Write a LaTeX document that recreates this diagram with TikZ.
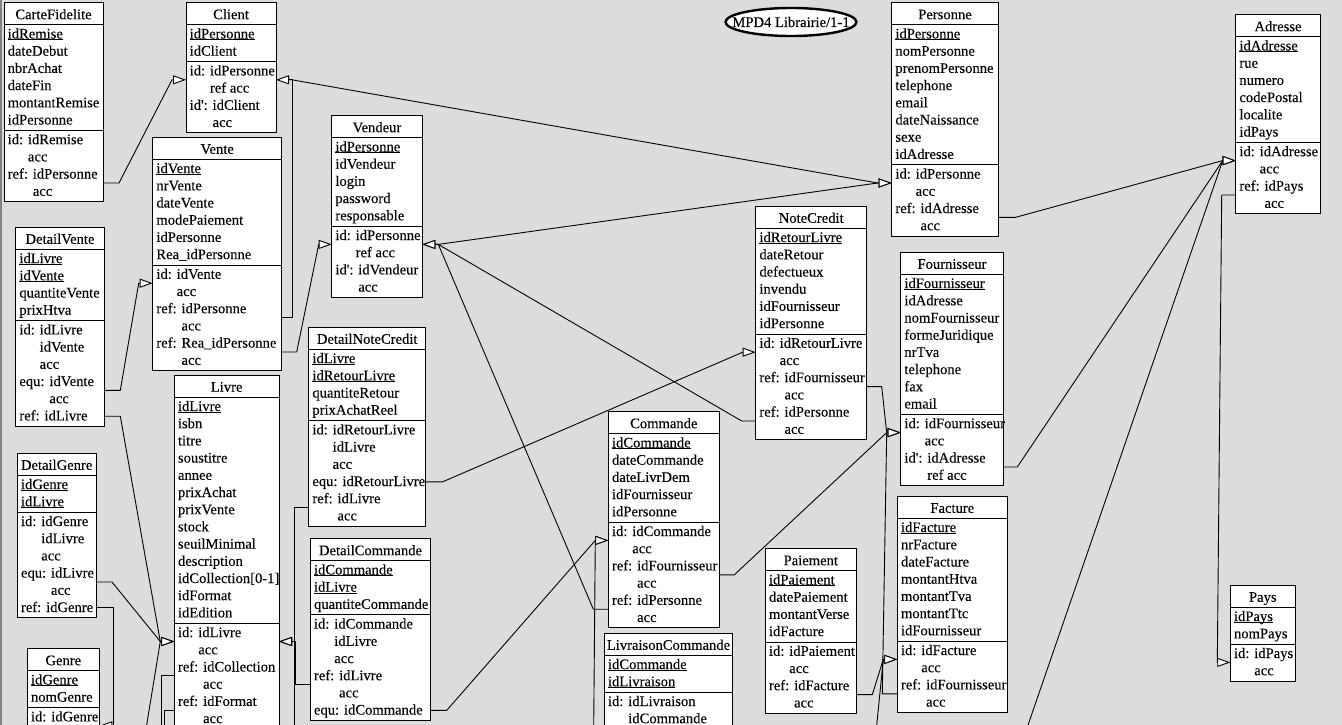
\documentclass[tikz,border=0pt]{standalone}
\usepackage{fontspec}
\setmainfont{Liberation Serif}[FakeBold=0.12]
\usetikzlibrary{arrows.meta,shapes.geometric}

\definecolor{canvas}{RGB}{220,220,220}
\definecolor{frameedge}{RGB}{130,130,130}

% primary-key attribute: underlined just below the baseline
\newsavebox\keybox
\newcommand\keyattr[1]{\sbox\keybox{#1}\rlap{\rule[-1.8pt]{\wd\keybox}{0.9pt}}\usebox\keybox}
% continuation line of a constraint group, indented past its prefix
\newcommand\cont[1]{\hphantom{#1: }}
% straight prime of the secondary identifier
\newcommand\sid{id\textquotesingle}

\tikzset{
  entbox/.style={draw, fill=white, line width=1pt, inner sep=0pt, outer sep=0pt, anchor=north west},
  ttl/.style={anchor=base, inner sep=0pt},
  entrow/.style={anchor=base west, inner sep=0pt},
  sepline/.style={line width=1pt},
  lnk/.style={line width=0.9pt},
  fk/.style={lnk, -{Triangle[open, fill=white, length=13pt, width=9pt]}},
}

% \entity{name}{left}{top}{width}{title}{attributes}{constraints}
% rows are 17.2 units apart; anchors name-Li / name-Ri sit on the box sides
% at row i, name-Lmi / name-Rmi halfway between rows i and i+1
\newcommand\entity[7]{%
  \pgfmathsetmacro\eL{#2}%
  \pgfmathsetmacro\eT{#3}%
  \pgfmathsetmacro\eR{#2+#4}%
  \pgfmathsetmacro\eS{#3+22}%
  \foreach \a [count=\i] in {#6} {\xdef\entNA{\i}}%
  \foreach \c [count=\i] in {#7} {\xdef\entNC{\i}}%
  \pgfmathsetmacro\eA{\eS+17.2*\entNA+2.5}%
  \pgfmathsetmacro\eB{\eA+17.2*\entNC+2.5}%
  \node[entbox, minimum width={#4}, minimum height={\eB-\eT}] (#1) at (\eL,\eT) {};
  \node[ttl] (#1-t) at ({(\eL+\eR)/2}, \eT+16.5) {#5};
  \draw[sepline] (\eL,\eS) -- (\eR,\eS);
  \draw[sepline] (\eL,\eA) -- (\eR,\eA);
  \foreach \a [count=\i] in {#6} {%
    \node[entrow] (#1-a\i) at (\eL+3.5, \eS+13.8+17.2*\i-17.2) {\a};}
  \foreach \c [count=\i] in {#7} {%
    \pgfmathsetmacro\yc{\eA+9.6+17.2*(\i-1)}
    \node[entrow] (#1-c\i) at (\eL+3.5, \yc+4.2) {\c};
    \coordinate (#1-L\i) at (\eL,\yc);
    \coordinate (#1-R\i) at (\eR,\yc);
    \coordinate (#1-Lm\i) at (\eL,\yc+8.6);
    \coordinate (#1-Rm\i) at (\eR,\yc+8.6);
  }%
}

\begin{document}
\begin{tikzpicture}[x=1pt, y=-1pt, font=\fontsize{14.6}{17.2}\selectfont]
\useasboundingbox (0,0) rectangle (1342,725);
\fill[canvas] (0,0) rectangle (1342,725);
\fill[frameedge] (0,0) rectangle (2,725);
\clip (0,0) rectangle (1342,725);

% ---------- tables ----------
\entity{cf}{4}{2.7}{99}{CarteFidelite}
  {\keyattr{idRemise}, dateDebut, nbrAchat, dateFin, montantRemise, idPersonne}
  {id: idRemise, \cont{id}acc, ref: idPersonne, \cont{ref}acc}

\entity{client}{186}{2.7}{90}{Client}
  {\keyattr{idPersonne}, idClient}
  {id: idPersonne, \cont{id}ref acc, \sid: idClient, \cont{\sid}acc}

\entity{vente}{152.7}{137.3}{129}{Vente}
  {\keyattr{idVente}, nrVente, dateVente, modePaiement, idPersonne, Rea\_idPersonne}
  {id: idVente, \cont{id}acc, ref: idPersonne, \cont{ref}acc, ref: Rea\_idPersonne, \cont{ref}acc}

\entity{vendeur}{331.7}{115.7}{90.6}{Vendeur}
  {\keyattr{idPersonne}, idVendeur, login, password, responsable}
  {id: idPersonne, \cont{id}ref acc, \sid: idVendeur, \cont{\sid}acc}

\entity{dv}{15.7}{227.3}{88.6}{DetailVente}
  {\keyattr{idLivre}, \keyattr{idVente}, quantiteVente, prixHtva}
  {id: idLivre, \cont{id}idVente, \cont{id}acc, equ: idVente, \cont{equ}acc, ref: idLivre}

\entity{dg}{17.3}{453.3}{78.7}{DetailGenre}
  {\keyattr{idGenre}, \keyattr{idLivre}}
  {id: idGenre, \cont{id}idLivre, \cont{id}acc, equ: idLivre, \cont{equ}acc, ref: idGenre}

\entity{genre}{27.3}{648.7}{72}{Genre}
  {\keyattr{idGenre}, nomGenre}
  {id: idGenre, \relax}

\entity{livre}{174.3}{375.2}{104.7}{Livre}
  {\keyattr{idLivre}, isbn, titre, soustitre, annee, prixAchat, prixVente, stock,
   seuilMinimal, description, idCollection[0-1], idFormat, idEdition}
  {id: idLivre, \cont{id}acc, ref: idCollection, \cont{ref}acc, ref: idFormat, \cont{ref}acc, \relax, \relax}

\entity{dnc}{308.7}{327.3}{117}{DetailNoteCredit}
  {\keyattr{idLivre}, \keyattr{idRetourLivre}, quantiteRetour, prixAchatReel}
  {id: idRetourLivre, \cont{id}idLivre, \cont{id}acc, equ: idRetourLivre, ref: idLivre, \cont{ref}acc}

\entity{dc}{310.3}{538.7}{120.4}{DetailCommande}
  {\keyattr{idCommande}, \keyattr{idLivre}, quantiteCommande}
  {id: idCommande, \cont{id}idLivre, \cont{id}acc, ref: idLivre, \cont{ref}acc, equ: idCommande}

\entity{commande}{608.3}{411.7}{111}{Commande}
  {\keyattr{idCommande}, dateCommande, dateLivrDem, idFournisseur, idPersonne}
  {id: idCommande, \cont{id}acc, ref: idFournisseur, \cont{ref}acc, ref: idPersonne, \cont{ref}acc}

\entity{lc}{604.3}{633.3}{128.4}{LivraisonCommande}
  {\keyattr{idCommande}, \keyattr{idLivraison}}
  {id: idLivraison, \cont{id}idCommande, \relax, \relax}

\entity{paiement}{765.3}{548.7}{91}{Paiement}
  {\keyattr{idPaiement}, datePaiement, montantVerse, idFacture}
  {id: idPaiement, \cont{id}acc, ref: idFacture, \cont{ref}acc}

\entity{notecredit}{755.7}{206.3}{111}{NoteCredit}
  {\keyattr{idRetourLivre}, dateRetour, defectueux, invendu, idFournisseur, idPersonne}
  {id: idRetourLivre, \cont{id}acc, ref: idFournisseur, \cont{ref}acc, ref: idPersonne, \cont{ref}acc}

\entity{fournisseur}{900.7}{252.3}{102.6}{Fournisseur}
  {\keyattr{idFournisseur}, idAdresse, nomFournisseur, formeJuridique, nrTva, telephone, fax, email}
  {id: idFournisseur, \cont{id}acc, \sid: idAdresse, \cont{\sid}ref acc}

\entity{facture}{897.3}{496.3}{110}{Facture}
  {\keyattr{idFacture}, nrFacture, dateFacture, montantHtva, montantTva, montantTtc, idFournisseur}
  {id: idFacture, \cont{id}acc, ref: idFournisseur, \cont{ref}acc}

\entity{personne}{891.7}{2.7}{106.6}{Personne}
  {\keyattr{idPersonne}, nomPersonne, prenomPersonne, telephone, email, dateNaissance, sexe, idAdresse}
  {id: idPersonne, \cont{id}acc, ref: idAdresse, \cont{ref}acc}

\entity{adresse}{1235.7}{14.7}{84.6}{Adresse}
  {\keyattr{idAdresse}, rue, numero, codePostal, localite, idPays}
  {id: idAdresse, \cont{id}acc, ref: idPays, \cont{ref}acc}

\entity{pays}{1230.3}{585.3}{65}{Pays}
  {\keyattr{idPays}, nomPays}
  {id: idPays, \cont{id}acc}

% schema label: a fixed-size ellipse with its title laid on top
\node[draw, ellipse, fill=white, line width=2.4pt, minimum width=131, minimum height=28, inner sep=0pt]
  (schema) at (791,22) {};
\node[inner sep=0pt] (schematitle) at (schema.center) {MPD4 Librairie/1-1};

% free ends of links whose other table lies below the sheet
\coordinate (adrlink) at (1019.4,750);
\coordinate (factlink) at (874.2,750);
\coordinate (livlinkR) at (294.6,750);
\coordinate (livlinkL) at (142.6,750);
\coordinate (cmdlink) at (593.5,750);
\coordinate (collink) at (161.3,750);
\coordinate (fmtlink) at (164,750);

% ---------- links leaving an identifier group (drawn under the arrow tips) ----------
\draw[fk] (client-Rm1) -- ++(16,0) -- ([xshift=-14pt]personne-Lm1) -- (personne-Lm1);
\draw[fk] (vendeur-Rm1) -- ++(16,0) -- ([xshift=-14pt]personne-Lm1) -- (personne-Lm1);
\draw[lnk] (livre-Lm3) -| (collink);
\draw[lnk] (livre-Lm5) -| (fmtlink);

% ---------- foreign keys ----------
\draw[fk] (cf-Rm3) -- ++(16,0) -- ([xshift=-14pt]client-Lm1) -- (client-Lm1);
\draw[fk] (vente-Rm3) -- ++(11,0) |- (client-Rm1);
\draw[fk] (vente-Rm5) -- ++(15,0) -- ([xshift=-13pt]vendeur-Lm1) -- (vendeur-Lm1);
\draw[fk] (notecredit-Lm5) -- ++(-14,0) -- ([xshift=16pt]vendeur-Rm1) -- (vendeur-Rm1);
\draw[fk] (commande-Lm5) -- ++(-15,0) -- ([xshift=16pt]vendeur-Rm1) -- (vendeur-Rm1);

\draw[fk] (personne-Rm3) -- ++(17,0) -- ([xshift=-13pt]adresse-Lm1) -- (adresse-Lm1);
\draw[fk] (fournisseur-Rm3) -- ++(14,0) -- ([xshift=-13pt]adresse-Lm1) -- (adresse-Lm1);
\draw[fk] (adrlink) -- ([xshift=-13pt]adresse-Lm1) -- (adresse-Lm1);
\draw[fk] (adresse-Lm3) -- ++(-14,0) -- ([xshift=-13pt]pays-Lm1) -- (pays-Lm1);

\draw[fk] (notecredit-Rm3) -- ++(15,0) -- ([xshift=-14pt]fournisseur-Lm1) -- (fournisseur-Lm1);
\draw[fk] (commande-Rm3) -- ++(15,0) -- ([xshift=-14pt]fournisseur-Lm1) -- (fournisseur-Lm1);
\draw[fk] (facture-Lm3) -- ++(-15,0) -- ([xshift=-14pt]fournisseur-Lm1) -- (fournisseur-Lm1);

\draw[fk] (paiement-Rm3) -- ++(16,0) -- ([xshift=-14pt]facture-Lm1) -- (facture-Lm1);
\draw[fk] (factlink) -- ([xshift=-14pt]facture-Lm1) -- (facture-Lm1);

\draw[fk] (dnc-R4) -- ++(17,0) -- ([xshift=-13pt]notecredit-Lm1) -- (notecredit-Lm1);
\draw[fk] (dnc-Lm5) -- ++(-14,0) |- (livre-Rm1);
\draw[fk] (dc-Lm4) -- ++(-15,0) |- (livre-Rm1);
\draw[fk] (livlinkR) |- (livre-Rm1);

\draw[fk] (dc-R6) -- ++(16,0) -- ([xshift=-13pt]commande-Lm1) -- (commande-Lm1);
\draw[fk] (cmdlink) -- ([xshift=-13pt]commande-Lm1) -- (commande-Lm1);

\draw[fk] (dv-Rm4) -- ++(16,0) -- ([xshift=-14pt]vente-Lm1) -- (vente-Lm1);
\draw[fk] (dv-R6) -- ++(16,0) -- ([xshift=-14pt]livre-Lm1) -- (livre-Lm1);
\draw[fk] (dg-Rm4) -- ++(16,0) -- ([xshift=-14pt]livre-Lm1) -- (livre-Lm1);
\draw[fk] (livlinkL) -- ([xshift=-14pt]livre-Lm1) -- (livre-Lm1);
\draw[fk] (dg-R6) -- ++(17,0) |- (genre-Rm1);
\end{tikzpicture}
\end{document}
